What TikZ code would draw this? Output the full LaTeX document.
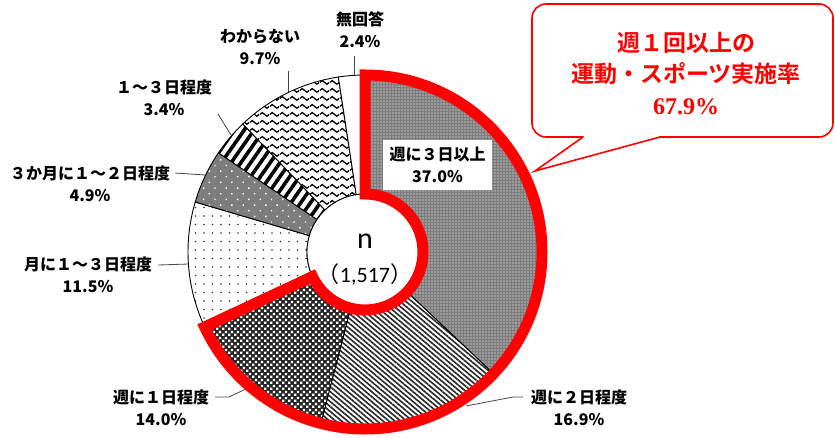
\documentclass[tikz,border=0pt]{standalone}
\usepackage{fontspec}
\newfontfamily\jp{Noto Sans CJK JP}[BoldFont={Noto Sans CJK JP Bold}]
\newfontfamily\jpblack{Noto Sans CJK JP Black}
\newfontfamily\serifb{Liberation Serif}
\newfontfamily\calib{Carlito}
\usetikzlibrary{patterns,patterns.meta}
\definecolor{pgray}{RGB}{125,125,125}
\definecolor{lgray}{RGB}{70,70,70}
\pgfdeclarepatternformonly{bigcheck}{\pgfpointorigin}{\pgfqpoint{6pt}{6pt}}{\pgfqpoint{6pt}{6pt}}{%
  \pgfpathrectangle{\pgfqpoint{0.2pt}{0.2pt}}{\pgfqpoint{2.6pt}{2.6pt}}%
  \pgfpathrectangle{\pgfqpoint{3.2pt}{3.2pt}}{\pgfqpoint{2.6pt}{2.6pt}}%
  \pgfusepath{fill}}
\pgfdeclarepatternformonly{waves}{\pgfpointorigin}{\pgfqpoint{10pt}{8pt}}{\pgfqpoint{10pt}{8pt}}{%
  \pgfsetlinewidth{1.4pt}%
  \pgfpathmoveto{\pgfqpoint{0pt}{4pt}}%
  \pgfpathcurveto{\pgfqpoint{1.8pt}{6.7pt}}{\pgfqpoint{3.2pt}{6.7pt}}{\pgfqpoint{5pt}{4pt}}%
  \pgfpathcurveto{\pgfqpoint{6.8pt}{1.3pt}}{\pgfqpoint{8.2pt}{1.3pt}}{\pgfqpoint{10pt}{4pt}}%
  \pgfusepath{stroke}}
\newcommand\donutslice[3]{%
  \path[#3] (365,185) ++(#1:177pt) arc[start angle=#1,end angle=#2,radius=177pt]
    -- ++(#2:-119pt) arc[start angle=#2,end angle=#1,radius=58pt] -- cycle;}
\tikzset{
  slicebd/.style={draw=black,line width=0.9pt},
  p1/.style={slicebd,preaction={fill=pgray},pattern={Dots[radius=0.55pt,distance=3pt]},pattern color=white},
  p2/.style={slicebd,preaction={fill=white},pattern={Lines[angle=-40,distance=3.8pt,line width=1.6pt]},pattern color=black!85},
  p3/.style={slicebd,preaction={fill=black!85},pattern=bigcheck,pattern color=white},
  p4/.style={slicebd,preaction={fill=white},pattern={Dots[radius=0.9pt,distance=8.5pt]},pattern color=black!80},
  p5/.style={slicebd,preaction={fill=pgray},pattern={Dots[radius=1pt,distance=8pt,angle=45]},pattern color=white},
  p6/.style={slicebd,preaction={fill=white},pattern={Lines[angle=55,distance=8pt,line width=3.6pt]},pattern color=black},
  p7/.style={slicebd,preaction={fill=white},pattern=waves,pattern color=black},
  p8/.style={slicebd,fill=white},
  lab/.style={font=\jpblack\fontsize{16}{22}\selectfont,align=center,inner sep=0pt},
  leader/.style={draw=lgray,line width=0.8pt},
  redband/.style={draw=red,line width=11pt,line join=miter},
}
\begin{document}
\begin{tikzpicture}[x=1pt,y=1pt]
\useasboundingbox (0,0) rectangle (835,437);
% leaders (drawn first, under donut)
\coordinate (a8) at (354,381); \coordinate (b8) at (354,362);
\coordinate (a7) at (288,366); \coordinate (b7) at (288,344);
\coordinate (a6) at (218,323); \coordinate (b6) at (231,302);
\coordinate (a5) at (175,264); \coordinate (b5) at (205,262);
\coordinate (a4) at (158,172); \coordinate (b4) at (189,173);
\coordinate (a3) at (215,40); \coordinate (m3) at (229,40); \coordinate (b3) at (250,50);
\coordinate (a2) at (523,40); \coordinate (m2) at (513,40); \coordinate (b2) at (466,31);
\draw[leader] (a8) -- (b8);
\draw[leader] (a7) -- (b7);
\draw[leader] (a6) -- (b6);
\draw[leader] (a5) -- (b5);
\draw[leader] (a4) -- (b4);
\draw[leader] (a3) -- (m3) -- (b3);
\draw[leader] (a2) -- (m2) -- (b2);
% slices
\donutslice{90}{-43.47}{p1}
\donutslice{-43.47}{-104.43}{p2}
\donutslice{-104.43}{-154.93}{p3}
\donutslice{-154.93}{-196.41}{p4}
\donutslice{-196.41}{-214.09}{p5}
\donutslice{-214.09}{-226.35}{p6}
\donutslice{-226.35}{-261.34}{p7}
\donutslice{-261.34}{-270}{p8}
\draw[line width=0.9pt,fill=white] (365,185) circle[radius=58pt];
% red band
\draw[redband] (365,185) ++(90:58pt) -- ++(90:119pt) arc[start angle=90,end angle=-154.93,radius=177pt]
  -- ++(-154.93:-119pt) arc[start angle=-154.93,end angle=90,radius=58pt] -- cycle;
% center
\node[inner sep=0pt] (nn) at (365,196) {\calib\fontsize{30}{30}\selectfont n};
\node[inner sep=0pt] (cnt) at (365,163) {\fontsize{22}{22}\selectfont{\jp （}{\calib 1,517}{\jp ）}};
% labels
\node[lab,fill=white,minimum width=109pt,minimum height=50pt] (l1) at (437.5,272) {週に３日以上\\37.0\%};
\node[lab] (l2) at (579,29) {週に２日程度\\16.9\%};
\node[lab] (l3) at (161,29) {週に１日程度\\14.0\%};
\node[lab] (l4) at (88,162) {月に１～３日程度\\11.5\%};
\node[lab] (l5) at (90,253) {３か月に１～２日程度\\4.9\%};
\node[lab] (l6) at (164,339) {１～３日程度\\3.4\%};
\node[lab] (l7) at (260,390.5) {わからない\\9.7\%};
\node[lab] (l8) at (360,407) {無回答\\2.4\%};
% callout
\node[draw=red,line width=1.6pt,rounded corners=14pt,minimum width=301pt,minimum height=133pt,fill=white,inner sep=0pt] (call) at (682.5,366.5) {};
\coordinate (ta) at (583,300); \coordinate (tip) at (535,266); \coordinate (tb) at (660,300);
\fill[white] (ta) -- (tip) -- (tb) -- cycle;
\fill[white] (584,298.5) rectangle (659,301.5);
\draw[red,line width=1.6pt,line join=miter] (ta) -- (tip) -- (tb);
\node[text=red,align=center,inner sep=0pt,font=\jp\bfseries\fontsize{23}{31.5}\selectfont] (calltext) at (686,363.5)
  {週１回以上の\\運動・スポーツ実施率\\{\serifb\bfseries\fontsize{24}{31.5}\selectfont 67.9\%}};
\end{tikzpicture}
\end{document}
